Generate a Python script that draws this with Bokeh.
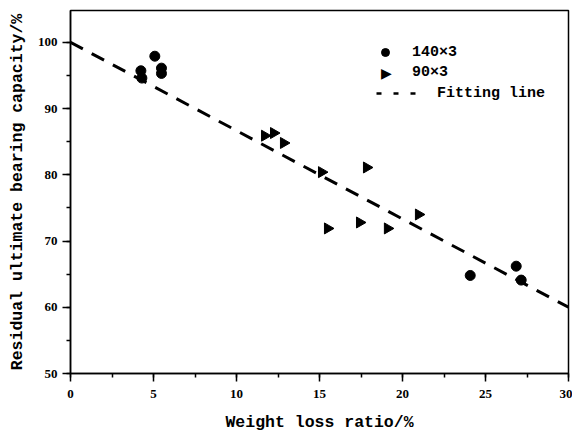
import math
from bokeh.plotting import figure
from bokeh.models import (Legend, LegendItem, SingleIntervalTicker, Range1d, Label)
from bokeh.embed import file_html
from bokeh.resources import INLINE

# Data
x_140 = [4.24, 4.30, 5.08, 5.48, 5.48, 24.08, 26.85, 27.15]
y_140 = [95.7, 94.6, 97.9, 96.1, 95.3, 64.8, 66.2, 64.1]

x_90 = [11.70, 12.24, 12.84, 15.13, 17.84, 15.49, 17.42, 19.10, 20.97]
y_90 = [85.9, 86.3, 84.8, 80.4, 81.1, 71.9, 72.8, 71.9, 74.0]

x_fit = [0, 30]
y_fit = [100, 60]

x_label = "Weight loss ratio/%"
y_label = "Residual ultimate bearing capacity/%"
series_names = ["140×3", "90×3", "Fitting line"]

p = figure(frame_width=498, frame_height=363,
           min_border_left=70, min_border_right=4, min_border_top=10, min_border_bottom=56,
           x_range=Range1d(0, 30), y_range=Range1d(50, 104.8),
           output_backend="svg", toolbar_location=None)
p.grid.visible = False
p.background_fill_color = "white"
p.border_fill_color = "white"
p.outline_line_color = "black"
p.outline_line_width = 1.5

fit = p.line(x_fit, y_fit, line_color="black", line_width=3, line_dash="14 10")
fit_proxy = p.line(x_fit, y_fit, line_color="black", line_width=2.5, line_dash="5 12", visible=False)
c = p.scatter(x_140, y_140, marker="circle", size=10, fill_color="black", line_color="black")
t = p.scatter(x_90, y_90, marker="triangle", size=11, angle=-math.pi / 2,
              fill_color="black", line_color="black")
t_proxy = p.scatter(x_90, y_90, marker="triangle", size=11, fill_alpha=0, line_alpha=0)

FONT_T = "Liberation Serif"
FONT_M = "Liberation Mono"

p.xaxis.ticker = SingleIntervalTicker(interval=5, num_minor_ticks=2)
p.yaxis.ticker = SingleIntervalTicker(interval=10, num_minor_ticks=2)
for ax in (p.xaxis[0], p.yaxis[0]):
    ax.axis_line_width = 1.5
    ax.axis_line_color = "black"
    ax.major_tick_line_width = 1.5
    ax.minor_tick_line_width = 1.5
    ax.major_tick_line_color = "black"
    ax.minor_tick_line_color = "black"
    ax.major_tick_out = 8
    ax.major_tick_in = 0
    ax.minor_tick_out = 4
    ax.minor_tick_in = 0
    ax.major_label_text_font = FONT_T
    ax.major_label_text_font_style = "bold"
    ax.major_label_text_font_size = "13px"
    ax.major_label_text_color = "black"
    ax.axis_label_text_font = FONT_M
    ax.axis_label_text_font_style = "bold"
    ax.axis_label_text_font_size = "16.5px"
    ax.axis_label_text_color = "black"
p.xaxis.major_label_standoff = 8
p.yaxis.major_label_standoff = 5
p.xaxis.axis_label = x_label
p.yaxis.axis_label = y_label
p.xaxis.axis_label_standoff = 12
p.yaxis.axis_label_standoff = 8

leg1 = Legend(items=[LegendItem(label=series_names[0], renderers=[c]),
                     LegendItem(label=series_names[1], renderers=[t_proxy])],
              location=(305, 291), glyph_width=20, glyph_height=20, label_height=20,
              label_standoff=17, spacing=0, padding=0, margin=0,
              border_line_color=None, background_fill_alpha=0)
leg2 = Legend(items=[LegendItem(label=series_names[2], renderers=[fit_proxy])],
              location=(306, 270), glyph_width=43, glyph_height=20, label_height=20,
              label_standoff=18, spacing=0, padding=0, margin=0,
              border_line_color=None, background_fill_alpha=0)
for lg in (leg1, leg2):
    lg.label_text_font = FONT_M
    lg.label_text_font_style = "bold"
    lg.label_text_font_size = "15px"
    lg.label_text_color = "black"
    p.add_layout(lg, "center")

# right-pointing triangle key for the "90×3" legend entry
tri_key = Label(x=316, y=301, x_units="screen", y_units="screen", text="▶",
                text_font="DejaVu Sans", text_font_size="14px",
                text_align="center", text_baseline="middle", text_color="black")
p.add_layout(tri_key)

open("out.html", "w").write(file_html(p, INLINE))
